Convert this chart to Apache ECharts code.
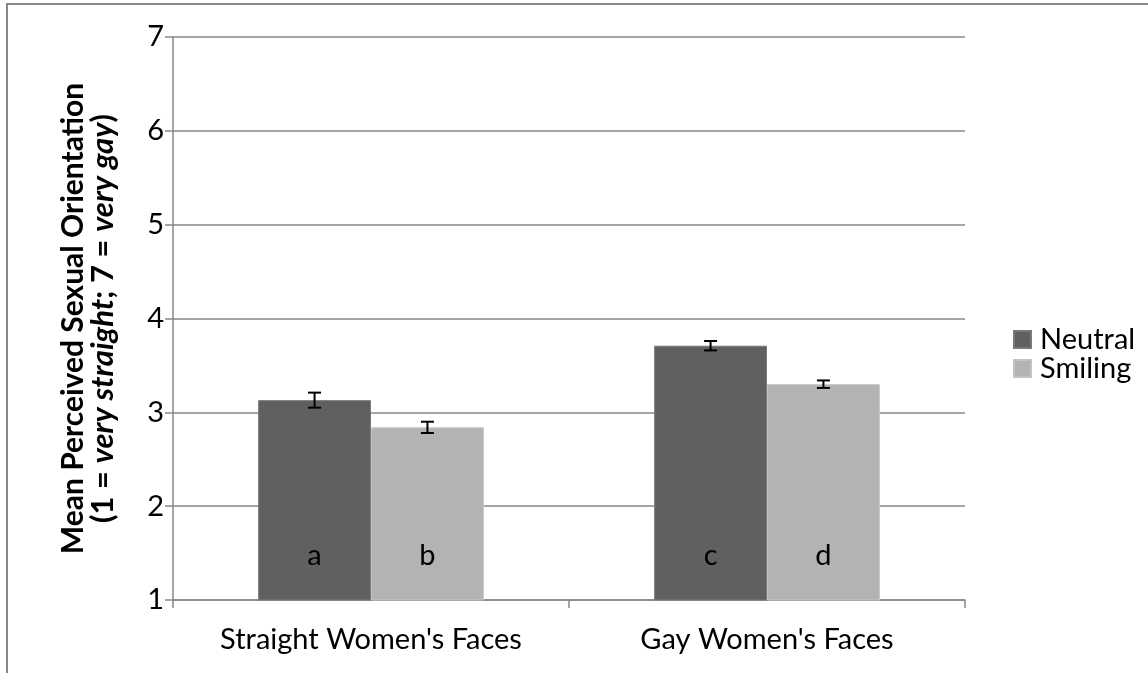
<!DOCTYPE html>
<html>
<head>
<meta charset="utf-8">
<script src="https://cdn.jsdelivr.net/npm/echarts@6/dist/echarts.min.js"></script>
<style>
  html, body { margin: 0; padding: 0; background: #fff; }
  #chart { width: 1148px; height: 673px; }
</style>
</head>
<body>
<div id="chart"></div>
<script>
// Face categories and condition means on the 1–7 orientation scale
const categories = ["Straight Women's Faces", "Gay Women's Faces"];
const neutralMeans = [3.13, 3.71];
const smilingMeans = [2.84, 3.30];
// Standard errors drawn as whiskers
const neutralErr = [0.08, 0.05];
const smilingErr = [0.06, 0.04];
// Letters marking each bar
const neutralLetters = ['a', 'c'];
const smilingLetters = ['b', 'd'];
const yTicks = [1, 2, 3, 4, 5, 6, 7];

const FONT = 'Lato, "Open Sans", sans-serif';
const FS = 29;
const CAT_GAP = 0.43; // fraction of the band left empty

function errorSeries(name, means, errs, side) {
  return {
    type: 'custom',
    name: name,
    z: 10,
    silent: true,
    data: means.map((m, i) => [i, m, errs[i]]),
    renderItem: function (params, api) {
      const i = api.value(0);
      const band = api.size([1, 0])[0];
      const bw = band * (1 - CAT_GAP) / 2;
      const base = api.coord([i, api.value(1)]);
      const x = base[0] + side * bw / 2;
      const yHi = api.coord([i, api.value(1) + api.value(2)])[1];
      const yLo = api.coord([i, api.value(1) - api.value(2)])[1];
      const cap = 6.5;
      const style = { stroke: '#000', lineWidth: 2 };
      return {
        type: 'group',
        children: [
          { type: 'line', shape: { x1: x, y1: yHi, x2: x, y2: yLo }, style: style },
          { type: 'line', shape: { x1: x - cap, y1: yHi, x2: x + cap, y2: yHi }, style: style },
          { type: 'line', shape: { x1: x - cap, y1: yLo, x2: x + cap, y2: yLo }, style: style }
        ]
      };
    }
  };
}

function letterLabel(letters) {
  return {
    show: true,
    position: 'insideBottom',
    distance: 30,
    color: '#000',
    fontFamily: FONT,
    fontSize: FS,
    formatter: p => letters[p.dataIndex]
  };
}

const chart = echarts.init(document.getElementById('chart'), null, { renderer: 'canvas' });
chart.setOption({
  animation: false,
  backgroundColor: '#fff',
  textStyle: { fontFamily: FONT },
  graphic: [
    { type: 'line', shape: { x1: 6, y1: 4, x2: 1148, y2: 4 }, style: { stroke: '#888', lineWidth: 2 } },
    { type: 'line', shape: { x1: 7, y1: 4, x2: 7, y2: 673 }, style: { stroke: '#888', lineWidth: 2 } }
  ],
  grid: { left: 173, right: 183, top: 37, bottom: 73 },
  legend: {
    orient: 'vertical',
    left: 1008,
    top: 320,
    itemWidth: 17,
    itemHeight: 17,
    itemGap: 0,
    icon: 'rect',
    data: ['Neutral', 'Smiling'],
    textStyle: { fontFamily: FONT, fontSize: FS, color: '#000', padding: [0, 0, 0, 4] }
  },
  xAxis: {
    type: 'category',
    data: categories,
    axisLine: { lineStyle: { color: '#888', width: 1.5 } },
    axisTick: { show: true, length: 8, lineStyle: { color: '#888', width: 1.5 } },
    axisLabel: { color: '#000', fontSize: FS, fontFamily: FONT, margin: 25 }
  },
  yAxis: {
    type: 'value',
    min: 1,
    max: 7,
    interval: 1,
    axisLine: { show: true, lineStyle: { color: '#888', width: 1.5 } },
    axisTick: { show: true, length: 8, lineStyle: { color: '#888', width: 1.5 } },
    splitLine: { lineStyle: { color: '#888', width: 1.5 } },
    axisLabel: {
      color: '#000', fontSize: FS, fontFamily: FONT, margin: 9,
      formatter: v => yTicks.indexOf(v) >= 0 ? String(v) : ''
    },
    name: '{b|Mean Perceived Sexual Orientation}\n{b2|(1 = }{bi|very straight}{b2|; 7 = }{bi|very gay}{b2|)}',
    nameLocation: 'middle',
    nameRotate: 90,
    nameGap: 55,
    nameTextStyle: {
      align: 'center',
      lineHeight: 30,
      rich: {
        b: { fontFamily: FONT, fontSize: 30, fontWeight: 'bold', color: '#000', lineHeight: 30 },
        b2: { fontFamily: FONT, fontSize: 31, fontWeight: 'bold', color: '#000', lineHeight: 30 },
        bi: { fontFamily: FONT, fontSize: 31, fontWeight: 'bold', fontStyle: 'italic', color: '#000', lineHeight: 30 }
      }
    }
  },
  series: [
    {
      name: 'Neutral',
      type: 'bar',
      data: neutralMeans,
      barGap: '0%',
      barCategoryGap: (CAT_GAP * 100) + '%',
      itemStyle: { color: '#606060', borderColor: '#7a7a7a', borderWidth: 1 },
      label: letterLabel(neutralLetters)
    },
    {
      name: 'Smiling',
      type: 'bar',
      data: smilingMeans,
      barGap: '0%',
      barCategoryGap: (CAT_GAP * 100) + '%',
      itemStyle: { color: '#b3b3b3', borderColor: '#c4c4c4', borderWidth: 1 },
      label: letterLabel(smilingLetters)
    },
    errorSeries('neutralErr', neutralMeans, neutralErr, -1),
    errorSeries('smilingErr', smilingMeans, smilingErr, 1)
  ]
});
</script>
</body>
</html>
